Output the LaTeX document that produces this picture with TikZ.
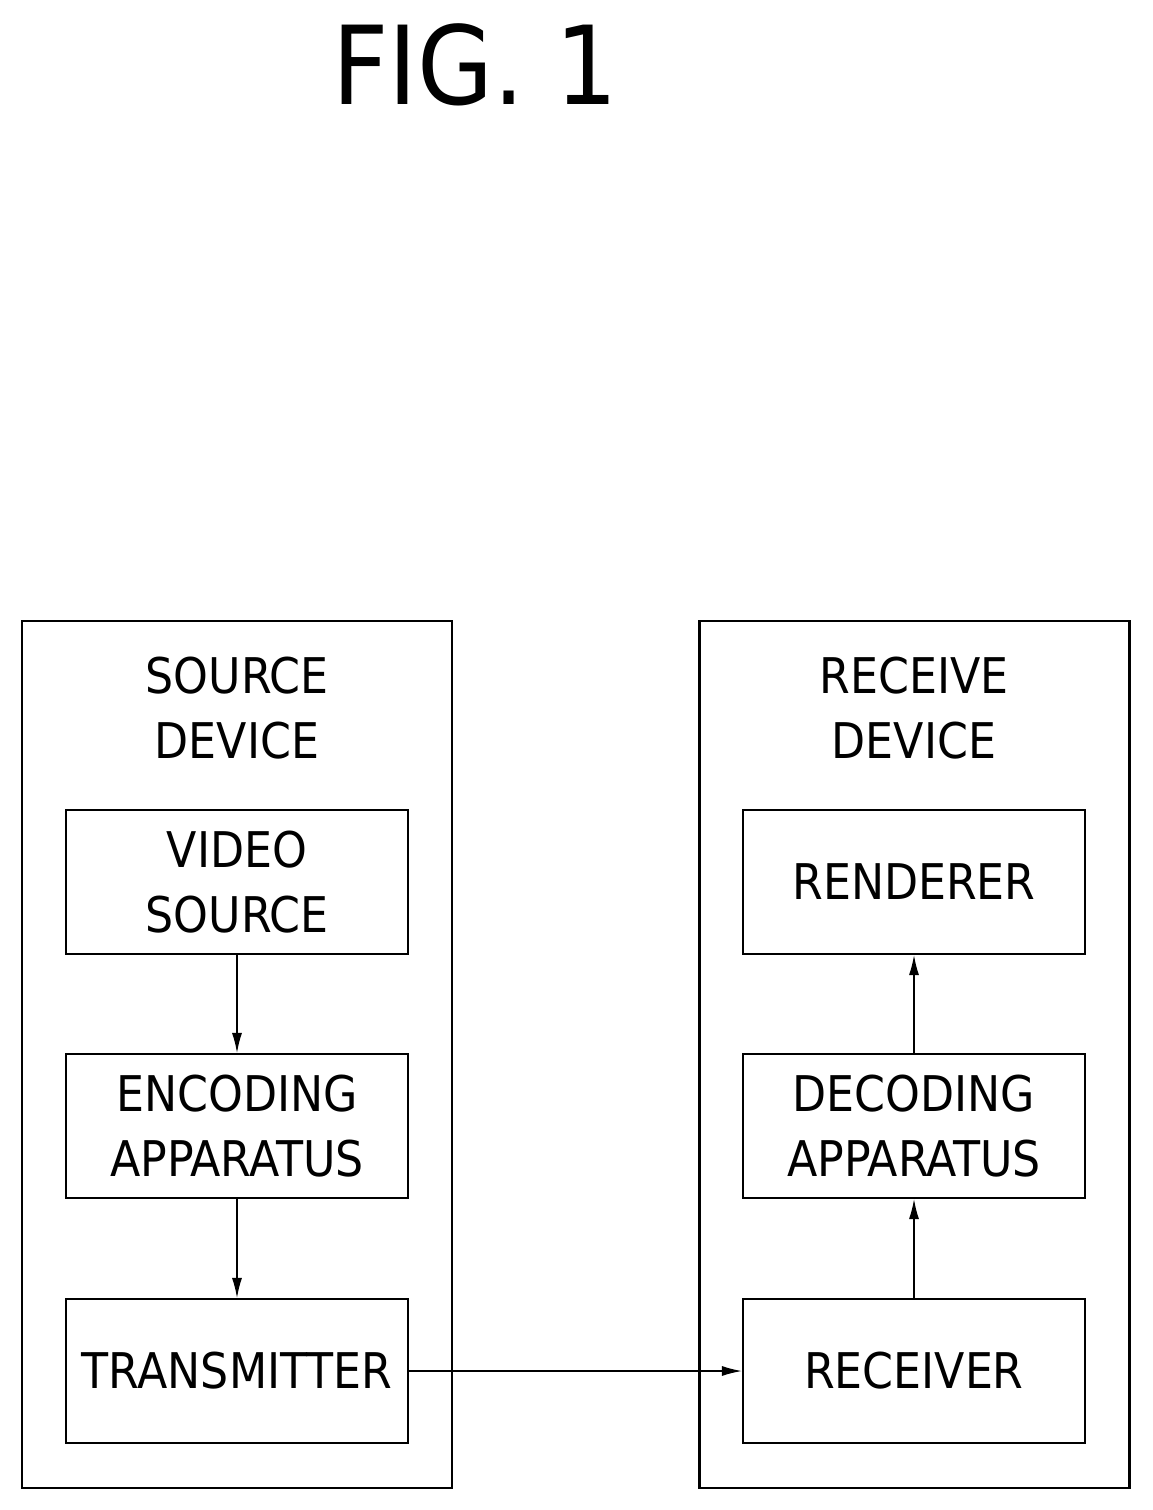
\documentclass[tikz,border=0pt]{standalone}
\usepackage{fontspec}
\setmainfont{DejaVu Sans Condensed}
\usetikzlibrary{arrows.meta,positioning}
\begin{document}
\begin{tikzpicture}[x=0.02cm,y=-0.02cm,>={Latex[length=4mm,width=2mm]},
  every node/.append style={align=center,font=\fontsize{28}{37}\selectfont},
  outer/.style={draw,line width=1.2pt,minimum width=8.6cm,minimum height=17.34cm},
  blk/.style={draw,line width=1.2pt,minimum width=6.84cm,minimum height=2.88cm},
  link/.style={->,line width=0.8pt}]
\useasboundingbox (0,0) rectangle (1152,1510);
\node[font=\fontsize{62}{70}\selectfont] (title) at (475,65) {FIG. 1};
% source side
\node[outer] (src) at (237,1054.5) {};
\node (srclbl) at (237,708) {SOURCE\\DEVICE};
\node[blk] (video) at (237,882) {VIDEO\\SOURCE};
\node[blk] (enc) at (237,1126) {ENCODING\\APPARATUS};
\node[blk] (tx) at (237,1371) {TRANSMITTER};
% receive side
\node[outer] (rcv) at (914.5,1054.5) {};
\node (rcvlbl) at (914,708) {RECEIVE\\DEVICE};
\node[blk] (rend) at (914,882) {RENDERER};
\node[blk] (dec) at (914,1126) {DECODING\\APPARATUS};
\node[blk] (rx) at (914,1371) {RECEIVER};
\draw[link] (video) -- (enc);
\draw[link] (enc) -- (tx);
\draw[link] (tx) -- (rx);
\draw[link] (rx) -- (dec);
\draw[link] (dec) -- (rend);
\end{tikzpicture}
\end{document}
